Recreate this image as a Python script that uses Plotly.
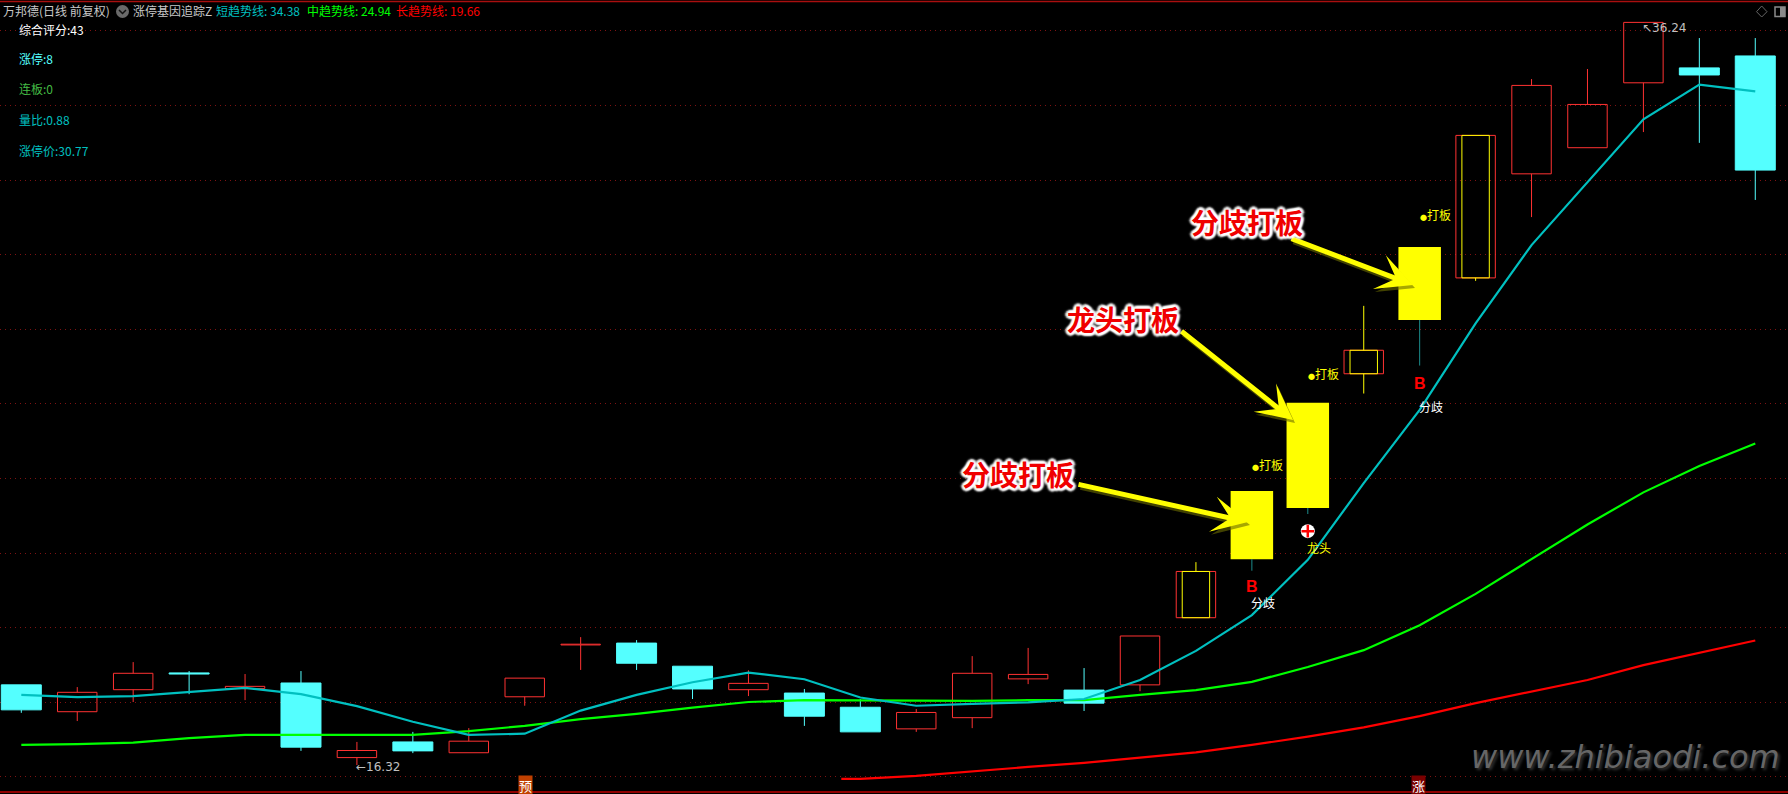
import plotly.graph_objects as go

W, H = 1788, 794
FONT = "Noto Sans CJK SC"

# Candles (price units)
candle_kind = ["cyan","red","red","cyan","red","cyan","red","cyan","red","red","red",
               "cyan","cyan","red","cyan","cyan","red","red","red","cyan","red",
               "both","yellow","yellow","both","yellow","both","red","red","red","cyan","cyan"]
candle_open = [18.47,17.75,18.34,18.79,18.37,18.52,16.52,16.94,16.65,18.15,19.54,
               19.59,18.97,18.34,18.25,17.87,17.29,17.59,18.63,18.33,18.47,
               20.27,21.84,23.21,26.81,28.25,29.38,32.17,32.87,34.61,35.01,35.33]
candle_close = [17.80,18.27,18.78,18.76,18.43,16.80,16.71,16.70,16.96,18.65,19.56,
                19.05,18.36,18.51,17.63,17.21,17.73,18.78,18.75,17.98,19.78,
                21.51,23.67,26.03,27.44,30.21,33.20,34.54,34.03,36.23,34.82,32.27]
candle_high = [18.47,18.41,19.08,18.84,18.76,18.84,16.94,17.21,17.31,18.65,19.75,
               19.67,18.97,18.86,18.36,18.09,17.82,19.24,19.46,18.92,19.78,
               21.76,23.67,26.03,28.63,30.21,33.20,34.71,34.98,36.24,35.81,35.81]
candle_low = [17.72,17.50,18.01,18.22,18.06,16.70,16.32,16.64,16.65,17.91,18.87,
              18.87,18.09,18.17,17.37,17.21,17.21,17.31,18.49,17.77,18.30,
              20.27,21.53,23.05,26.28,27.03,29.30,31.01,32.87,33.29,33.00,31.47]

# Trend lines
short_trend = [18.20,18.14,18.17,18.29,18.39,18.22,17.90,17.48,17.13,17.16,17.78,
               18.20,18.54,18.80,18.62,18.13,17.91,17.96,18.00,18.09,18.60,
               19.38,20.34,21.82,23.88,25.84,28.16,30.26,31.96,33.63,34.56,34.38]
mid_trend = [16.86,16.88,16.92,17.04,17.13,17.13,17.13,17.13,17.23,17.37,17.55,
             17.69,17.86,18.01,18.06,18.05,18.04,18.04,18.06,18.06,18.20,
             18.33,18.55,18.95,19.40,20.07,20.91,21.84,22.77,23.63,24.34,24.94]
long_x = [14.66,15,16,17,18,19,20,21,22,23,24,25,26,27,28,29,30,31]
long_trend = [15.95,15.95,16.03,16.16,16.27,16.38,16.51,16.66,16.86,17.08,17.33,
              17.63,17.98,18.29,18.60,19.00,19.33,19.66]

header_texts = [("万邦德(日线 前复权)", 1, "#c8c8c8"), ("涨停基因追踪Z", 131, "#c8c8c8"),
                ("短趋势线: 34.38", 214, "#00c0c0"), ("中趋势线: 24.94", 305, "#00ff00"),
                ("长趋势线: 19.66", 394, "#ff0000")]
side_texts = [("综合评分:43", 29, "#ffffff"), ("涨停:8", 59, "#54ffff"), ("连板:0", 89, "#44bb44"),
              ("量比:0.88", 119, "#00c0c0"), ("涨停价:30.77", 150, "#00c0c0")]
DOT = '<span style="font-size:7px">●</span>'
# label, candle index, price, x shift in px, colour, size
chart_labels = [(DOT + "打板", 23, 24.39, -40, "#ffff00", 12), (DOT + "打板", 24, 26.83, -40, "#ffff00", 12),
                (DOT + "打板", 25, 31.09, 16, "#ffff00", 12),
                ("分歧", 22, 20.69, 11, "#ffffff", 12), ("分歧", 25, 25.92, 11, "#ffffff", 12),
                ("龙头", 23, 22.14, 11, "#ffff00", 12)]
buy_labels = [("B", 22, 21.10), ("B", 25, 26.54)]
callouts = [("分歧打板", 1018, 474, (1248, 522), (1077, 484)),
            ("龙头打板", 1123, 319, (1293, 420), (1180, 330)),
            ("分歧打板", 1247, 222, (1413, 285), (1290, 238))]

idx = list(range(len(candle_open)))
px = lambda x: x / W
py = lambda y: 1 - y / H
fig = go.Figure()


def bodies(kinds, color, fill, width, line_w):
    sel = [i for i in idx if candle_kind[i] in kinds]
    return go.Bar(
        x=sel,
        base=[min(candle_open[i], candle_close[i]) for i in sel],
        y=[abs(candle_open[i] - candle_close[i]) for i in sel],
        width=width, marker=dict(color=fill, line=dict(color=color, width=line_w)),
        hoverinfo="skip", showlegend=False)


fig.add_trace(bodies(("cyan",), "#54ffff", "#54ffff", 0.715, 1))
fig.add_trace(bodies(("yellow",), "#ffff00", "#ffff00", 0.76, 0))
fig.add_trace(bodies(("red", "both"), "#ff3232", "rgba(0,0,0,0)", 0.705, 1))
fig.add_trace(bodies(("both",), "#ffff00", "rgba(0,0,0,0)", 0.49, 1))

wick_color = {"cyan": "#54ffff", "red": "#ff3232", "both": "#ffff00", "yellow": "#1c8c8c"}
for kind, col in wick_color.items():
    xs, ys = [], []
    for i in idx:
        if candle_kind[i] != kind:
            continue
        top, bot = max(candle_open[i], candle_close[i]), min(candle_open[i], candle_close[i])
        xs += [i, i, None, i, i, None]
        ys += [candle_high[i], top, None, bot, candle_low[i], None]
    fig.add_trace(go.Scatter(x=xs, y=ys, mode="lines", line=dict(color=col, width=1),
                             hoverinfo="skip", showlegend=False))

fig.add_trace(go.Scatter(x=long_x, y=long_trend, mode="lines", line=dict(color="#ff0000", width=2.2),
                         hoverinfo="skip", showlegend=False))
fig.add_trace(go.Scatter(x=idx, y=mid_trend, mode="lines", line=dict(color="#00ff00", width=2.2),
                         hoverinfo="skip", showlegend=False))
fig.add_trace(go.Scatter(x=idx, y=short_trend, mode="lines", line=dict(color="#00c0c0", width=2.2),
                         hoverinfo="skip", showlegend=False))

# 龙头 marker: white disc with a red plus
fig.add_trace(go.Scatter(x=[23], y=[22.59], mode="markers",
                         marker=dict(symbol="circle", size=14, color="#ffffff"),
                         hoverinfo="skip", showlegend=False))
fig.add_trace(go.Scatter(x=[23], y=[22.59], mode="markers",
                         marker=dict(symbol="cross-thin", size=9, line=dict(color="#ff0000", width=2.5)),
                         hoverinfo="skip", showlegend=False))

ann = []
for text, x, col in header_texts:
    ann.append(dict(xref="paper", yref="paper", x=px(x), y=py(11), text=text, showarrow=False,
                    xanchor="left", yanchor="middle", font=dict(family=FONT, size=12, color=col)))
for text, y, col in side_texts:
    ann.append(dict(xref="paper", yref="paper", x=px(17), y=py(y), text=text, showarrow=False,
                    xanchor="left", yanchor="middle", font=dict(family=FONT, size=12, color=col)))
for text, i, p, dx, col, size in chart_labels:
    ann.append(dict(x=i, y=p, xshift=dx, text=text, showarrow=False, xanchor="center", yanchor="middle",
                    font=dict(family=FONT, size=size, color=col)))
for text, i, p in buy_labels:
    ann.append(dict(x=i, y=p, text=text, showarrow=False, xanchor="center", yanchor="middle",
                    font=dict(family="Liberation Sans", size=16, color="#ff0000", weight="bold")))
ann.append(dict(x=6, y=16.32, xshift=-3, yshift=-2, text="←16.32", showarrow=False, xanchor="left", yanchor="middle",
                font=dict(family="DejaVu Sans", size=12, color="#c0c0c0")))
ann.append(dict(x=29, y=36.24, xshift=-3, yshift=-6, text="↖36.24", showarrow=False, xanchor="left", yanchor="middle",
                font=dict(family="DejaVu Sans", size=12, color="#c0c0c0")))
# Callout arrows: a soft dark offset layer, the yellow arrow, then the words above them
for text, cx, cy, tip, tail in callouts:
    ann.append(dict(xref="paper", yref="paper", x=px(tip[0] + 2), y=py(tip[1] + 3), text="", showarrow=True,
                    ax=tail[0] - tip[0], ay=tail[1] - tip[1], arrowhead=3, arrowsize=1.2,
                    arrowwidth=5, arrowcolor="rgba(110,110,0,0.6)", standoff=0))
for text, cx, cy, tip, tail in callouts:
    ann.append(dict(xref="paper", yref="paper", x=px(tip[0]), y=py(tip[1]), text="", showarrow=True,
                    ax=tail[0] - tip[0], ay=tail[1] - tip[1], arrowhead=3, arrowsize=1.2,
                    arrowwidth=5, arrowcolor="#ffff00", standoff=0))
halo = ", ".join(f"{a}px {b}px 2px #ffffff" for a, b in
                 [(-3, 0), (3, 0), (0, -3), (0, 3), (-2, -2), (2, -2), (-2, 2), (2, 2)])
for text, cx, cy, tip, tail in callouts:
    ann.append(dict(xref="paper", yref="paper", x=px(cx), y=py(cy), text=text, showarrow=False,
                    xanchor="center", yanchor="middle",
                    font=dict(family=FONT, size=28, color="#f00000", weight="bold", shadow=halo)))
ann.append(dict(xref="paper", yref="paper", x=px(1625), y=py(757), text="<i>www.zhibiaodi.com</i>", showarrow=False,
                xanchor="center", yanchor="middle",
                font=dict(family="DejaVu Sans", size=32, color="#666666", shadow="2px 2px 3px #333333")))
# Signal badges at the bottom
for text, x, y, bg in [("预", 525, 785, "#c04000"), ("涨", 1418, 785, "#7a0000")]:
    ann.append(dict(xref="paper", yref="paper", x=px(x), y=py(y), text=text, showarrow=False,
                    xanchor="center", yanchor="middle", bgcolor=bg, borderpad=0,
                    font=dict(family=FONT, size=13, color="#ffffff")))

red = "#a80f0f"
shapes = [
    dict(type="line", xref="paper", yref="paper", x0=0, x1=1, y0=py(1.5), y1=py(1.5), line=dict(color=red, width=1.5)),
    dict(type="line", xref="paper", yref="paper", x0=0, x1=1, y0=py(792), y1=py(792), line=dict(color="#c00000", width=1.5)),
    dict(type="circle", xref="paper", yref="paper", x0=px(116), x1=px(129), y0=py(5), y1=py(18),
         fillcolor="#6a6a6a", line=dict(width=0)),
    dict(type="path", xref="paper", yref="paper",
         path=f"M {px(119)} {py(10)} L {px(122.5)} {py(13.5)} L {px(126)} {py(10)}",
         line=dict(color="#111111", width=1.5)),
    dict(type="path", xref="paper", yref="paper",
         path=f"M {px(1761.7)} {py(6)} L {px(1767)} {py(11.7)} L {px(1761.7)} {py(17)} L {px(1756.5)} {py(11.7)} Z",
         line=dict(color="#666666", width=1)),
    dict(type="rect", xref="paper", yref="paper", x0=px(1775), x1=px(1785), y0=py(7), y1=py(16.5),
         line=dict(color="#8a8a8a", width=1.5)),
    dict(type="rect", xref="paper", yref="paper", x0=px(1780), x1=px(1785), y0=py(7), y1=py(16.5),
         fillcolor="#8a8a8a", line=dict(width=0)),
]

fig.update_layout(
    width=W, height=H, margin=dict(l=0, r=0, t=0, b=0), autosize=False,
    paper_bgcolor="#000000", plot_bgcolor="#000000", showlegend=False,
    barmode="overlay", annotations=ann, shapes=shapes,
    xaxis=dict(range=[-0.381, 31.585], showgrid=False, zeroline=False, showticklabels=False, ticks="", fixedrange=True),
    yaxis=dict(range=[15.544, 36.83], tick0=16, dtick=2, showgrid=True, gridcolor="#7f1212", griddash="1px,4px",
               gridwidth=1, zeroline=False, showticklabels=False, ticks="", fixedrange=True),
)
fig.write_html("out.html", config=dict(displayModeBar=False),
               post_script="document.body.style.margin='0';document.body.style.background='#000';")
